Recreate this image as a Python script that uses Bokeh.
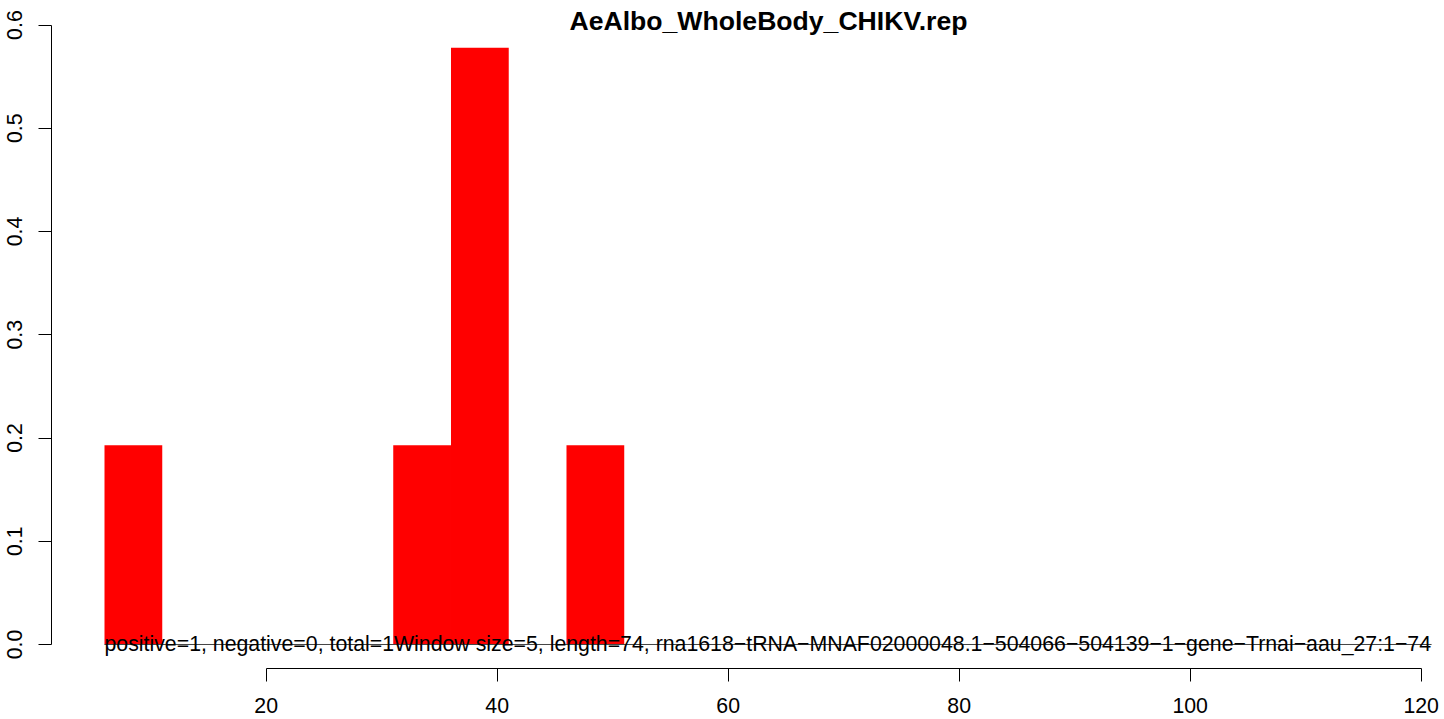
from bokeh.plotting import figure
from bokeh.models import Range1d, FixedTicker, PrintfTickFormatter, Label, ColumnDataSource
from bokeh.embed import file_html
from bokeh.resources import INLINE

# ---- data ----
title_text = "AeAlbo_WholeBody_CHIKV.rep"
bar_centers = [8.5, 33.5, 38.5, 48.5]
bar_heights = [0.193, 0.193, 0.578, 0.193]
window_size = 5
x_ticks = [20, 40, 60, 80, 100, 120]
y_ticks = [0.0, 0.1, 0.2, 0.3, 0.4, 0.5, 0.6]
info_text = ("positive=1, negative=0, total=1Window size=5, length=74, "
             "rna1618\u2212tRNA\u2212MNAF02000048.1\u2212504066\u2212504139\u22121\u2212gene\u2212Trnai\u2212aau_27:1\u221274")
info_x = [6]
info_y = [0]
base_line_x = [6, 120.9]
base_line_y = [0, 0]

FONT = "Liberation Sans"
FS = "21.3px"

p = figure(width=1444, height=719, output_backend="svg", toolbar_location=None,
           x_range=Range1d(1.411, 122.02), y_range=Range1d(-0.02325, 0.6238),
           min_border_left=51, min_border_right=0, min_border_top=0, min_border_bottom=51,
           background_fill_color="white", border_fill_color="white")
p.outline_line_color = None
p.xgrid.visible = False
p.ygrid.visible = False

src = ColumnDataSource(dict(x=bar_centers, top=bar_heights))
p.vbar(x="x", top="top", bottom=0, width=window_size, source=src,
       fill_color="#FF0000", line_color=None)

p.line(base_line_x, base_line_y, line_color="#444444", line_width=1)

p.text(x=info_x, y=info_y, text=[info_text], text_font_size=FS,
       text_align="left", text_baseline="alphabetic", text_color="black",
       text_font={"value": FONT})

p.add_layout(Label(x=63.49, y=0.6038, text=title_text, text_font=FONT,
                   text_font_size="26.6px", text_font_style="bold",
                   text_align="center", text_baseline="alphabetic", text_color="black"))

xa = p.xaxis[0]
xa.ticker = FixedTicker(ticks=x_ticks)
xa.bounds = (20, 120)
xa.minor_tick_line_color = None
xa.major_tick_in = 0
xa.major_tick_out = 13
xa.major_label_standoff = 16
xa.major_label_text_font = FONT
xa.major_label_text_font_size = FS
xa.major_label_text_color = "black"
xa.axis_line_color = "black"
xa.major_tick_line_color = "black"

ya = p.yaxis[0]
ya.ticker = FixedTicker(ticks=y_ticks)
ya.bounds = (0, 0.6)
ya.formatter = PrintfTickFormatter(format="%.1f")
ya.minor_tick_line_color = None
ya.major_tick_in = 0
ya.major_tick_out = 13
ya.major_label_standoff = 16
ya.major_label_orientation = "vertical"
ya.major_label_text_font = FONT
ya.major_label_text_font_size = FS
ya.major_label_text_color = "black"
ya.axis_line_color = "black"
ya.major_tick_line_color = "black"

open("out.html", "w").write(file_html(p, INLINE))
